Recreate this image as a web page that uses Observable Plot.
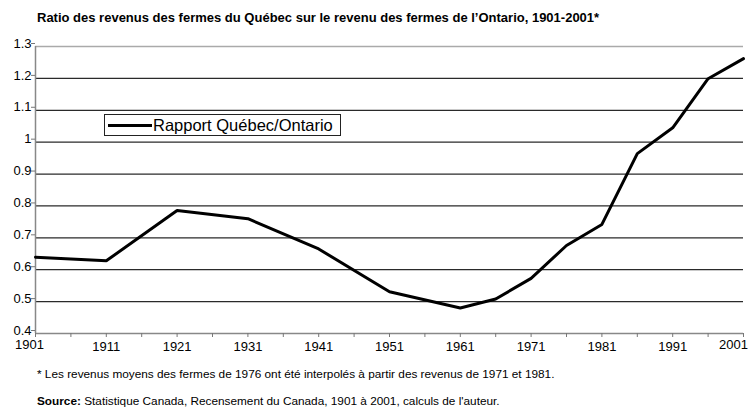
<!DOCTYPE html>
<html>
<head>
<meta charset="utf-8">
<script src="https://cdn.jsdelivr.net/npm/d3@7"></script>
<script src="https://cdn.jsdelivr.net/npm/@observablehq/plot@0.6"></script>
<style>
  html, body { margin: 0; padding: 0; background: #fff; }
  #wrap { position: relative; width: 749px; height: 412px; overflow: hidden; font-family: "Liberation Sans", Arial, sans-serif; color: #000; }
  #chart { position: absolute; left: 0; top: 0; }
  .title { position: absolute; left: 37px; top: 10px; font-size: 13px; font-weight: bold; white-space: nowrap; }
  .note { position: absolute; left: 37px; font-size: 11.8px; white-space: nowrap; }
  .legend { position: absolute; left: 104px; top: 114px; width: 235px; height: 20px; border: 1px solid #222; background: #fff; }
  .legend .sw { position: absolute; left: 3px; top: 9px; width: 44px; height: 3px; background: #000; }
  .legend .lab { position: absolute; left: 48px; top: 1px; font-size: 16.5px; line-height: 18px; white-space: nowrap; }
</style>
</head>
<body>
<div id="wrap">
  <div id="chart"></div>
  <div class="title">Ratio des revenus des fermes du Québec sur le revenu des fermes de l’Ontario, 1901-2001*</div>
  <div class="legend"><div class="sw"></div><div class="lab">Rapport Québec/Ontario</div></div>
  <div class="note" style="top:367px">* Les revenus moyens des fermes de 1976 ont été interpolés à partir des revenus de 1971 et 1981.</div>
  <div class="note" style="top:394px"><b>Source:</b> Statistique Canada, Recensement du Canada, 1901 à 2001, calculs de l'auteur.</div>
</div>
<script>
// Data
const years = [1901, 1911, 1921, 1931, 1941, 1951, 1961, 1966, 1971, 1976, 1981, 1986, 1991, 1996, 2001];
const ratio = [0.639, 0.628, 0.786, 0.760, 0.665, 0.531, 0.480, 0.508, 0.573, 0.676, 0.742, 0.964, 1.045, 1.199, 1.262];
const seriesName = "Rapport Québec/Ontario";

// Axis ticks
const yTicks = [0.4, 0.5, 0.6, 0.7, 0.8, 0.9, 1.0, 1.1, 1.2, 1.3];
const gridValues = [0.5, 0.6, 0.7, 0.8, 0.9, 1.0, 1.1, 1.2];
const xTickYears = [1901, 1906, 1911, 1916, 1921, 1926, 1931, 1936, 1941, 1946, 1951, 1956, 1961, 1966, 1971, 1976, 1981, 1986, 1991, 1996, 2001];
const xLabelYears = [1901, 1911, 1921, 1931, 1941, 1951, 1961, 1971, 1981, 1991, 2001];

const data = years.map((y, i) => ({year: y, value: ratio[i], series: seriesName}));
const midLabels = xLabelYears.slice(1, -1);
const firstLabel = xLabelYears.slice(0, 1);
const lastLabel = xLabelYears.slice(-1);

const chart = Plot.plot({
  width: 749,
  height: 412,
  marginLeft: 35,
  marginRight: 6,
  marginTop: 46,
  marginBottom: 79,
  x: {domain: [1901, 2001], axis: null, label: null},
  y: {domain: [0.4, 1.3], axis: null, label: null},
  style: {fontFamily: "'Liberation Sans', Arial, sans-serif", background: "transparent", color: "#000"},
  marks: [
    Plot.ruleY(gridValues, {stroke: "#2a2a2a", strokeWidth: 1.2}),
    Plot.ruleY([1.3], {stroke: "#aaa", strokeWidth: 1.5}),
    Plot.ruleX([1901], {stroke: "#888", strokeWidth: 1.5}),
    Plot.ruleY([0.4], {stroke: "#888", strokeWidth: 1.5}),
    Plot.axisX({ticks: xTickYears, tickSize: 4, tickFormat: () => "", stroke: "#777", label: null}),
    Plot.axisY({ticks: yTicks, tickSize: 4, tickPadding: 0, fontSize: 13, dy: -3, stroke: "#777", label: null,
      tickFormat: d => (Math.abs(d - 1) < 1e-9 ? "1" : d.toFixed(1))}),
    Plot.text(midLabels, {x: d => d, y: () => 0.4, text: d => String(d), dy: 13, fontSize: 13}),
    Plot.text(firstLabel, {x: d => d, y: () => 0.4, text: d => String(d), dy: 11, dx: -6, fontSize: 13}),
    Plot.text(lastLabel, {x: d => d, y: () => 0.4, text: d => String(d), dy: 11, dx: -10, fontSize: 13}),
    Plot.lineY(data, {x: "year", y: "value", stroke: "#000", strokeWidth: 3, strokeLinejoin: "miter"})
  ]
});
document.getElementById("chart").appendChild(chart);
</script>
</body>
</html>
